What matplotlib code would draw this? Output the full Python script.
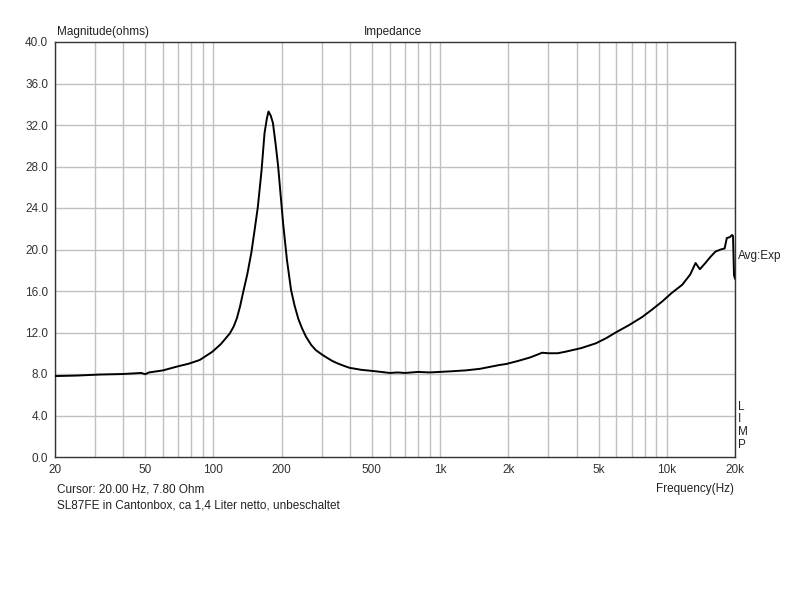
import numpy as np
import matplotlib
matplotlib.use("Agg")
import matplotlib.pyplot as plt
from matplotlib.ticker import FixedLocator, NullFormatter, NullLocator

# impedance curve (Hz, ohms)
freq = [20, 25, 31.6, 40, 48, 50, 52, 60, 68.6, 78, 87, 99, 108, 118, 123, 127, 131, 135,
        141, 147, 152, 157, 163, 168, 172, 175, 179, 183, 188, 193, 198, 203, 211, 220,
        228, 237, 246, 256, 270, 283, 300, 315, 335, 355, 375, 398, 450, 500, 560, 600,
        650, 700, 800, 900, 990, 1100, 1300, 1500, 1830, 1954, 2200, 2500, 2820, 3000,
        3300, 3580, 4200, 4870, 5400, 5950, 6800, 7800, 8600, 9560, 10500, 11700, 12700,
        13400, 14000, 14800, 15600, 16400, 17300, 18000, 18400, 19000, 19400, 19600,
        19800, 20000]
impedance = [7.8, 7.85, 7.95, 8.0, 8.1, 7.98, 8.15, 8.35, 8.7, 9.0, 9.35, 10.15, 10.9,
             11.9, 12.6, 13.4, 14.5, 15.8, 17.6, 19.7, 21.9, 24.1, 27.6, 31.2, 32.6,
             33.3, 32.9, 32.2, 30.2, 28.0, 25.2, 22.5, 19.0, 16.1, 14.6, 13.3, 12.4,
             11.6, 10.8, 10.3, 9.9, 9.6, 9.25, 9.0, 8.8, 8.6, 8.4, 8.3, 8.18, 8.1, 8.15,
             8.1, 8.2, 8.15, 8.2, 8.25, 8.35, 8.5, 8.87, 8.96, 9.25, 9.6, 10.05, 10.0,
             10.0, 10.15, 10.5, 10.96, 11.45, 12.0, 12.7, 13.5, 14.2, 15.0, 15.8, 16.6,
             17.6, 18.7, 18.1, 18.7, 19.3, 19.8, 20.0, 20.1, 21.1, 21.2, 21.4, 21.3,
             17.5, 17.2]

y_ticks = [0, 4, 8, 12, 16, 20, 24, 28, 32, 36, 40]
x_labeled = [20, 50, 100, 200, 500, 1000, 2000, 5000, 10000, 20000]
x_labels = ['20', '50', '100', '200', '500', '1k', '2k', '5k', '10k', '20k']

plt.rcParams['font.family'] = ['Liberation Sans', 'DejaVu Sans']
fs = 8.5

fig = plt.figure(figsize=(8, 6), dpi=100)
ax = fig.add_axes([55 / 800, 143 / 600, 680 / 800, 415 / 600])

# grid lines at every 1-2-3...9 step per decade
grid_x = []
for dec in [10, 100, 1000, 10000]:
    for m in range(1, 10):
        f = m * dec
        if 20 <= f <= 20000:
            grid_x.append(f)
for f in grid_x:
    ax.axvline(f, color='#c0c0c0', lw=1, zorder=1)
for y in y_ticks[1:-1]:
    ax.axhline(y, color='#c0c0c0', lw=1, zorder=1)

ax.plot(freq, impedance, color='black', lw=1.4, zorder=3)

ax.set_xscale('log')
ax.set_xlim(20, 20000)
ax.set_ylim(0, 40)
ax.xaxis.set_major_locator(FixedLocator(x_labeled))
ax.xaxis.set_minor_locator(NullLocator())
ax.xaxis.set_minor_formatter(NullFormatter())
ax.set_xticklabels(x_labels)
ax.set_yticks(y_ticks)
ax.set_yticklabels([f'{v:.1f}' for v in y_ticks])
ax.tick_params(length=0, labelsize=fs, colors='#333333', pad=5)

for s in ax.spines.values():
    s.set_color('#333333')
    s.set_linewidth(1)

tc = '#222222'
fig.text(57 / 800, 1 - 32 / 600, 'Magnitude(ohms)', fontsize=fs, va='center', ha='left', color=tc)
fig.text(393 / 800, 1 - 32 / 600, 'Impedance', fontsize=fs, va='center', ha='center', color=tc)
fig.text(734 / 800, 1 - 489 / 600, 'Frequency(Hz)', fontsize=fs, va='center', ha='right', color=tc)
fig.text(738 / 800, 1 - 256 / 600, 'Avg:Exp', fontsize=fs, va='center', ha='left', color=tc)
for i, ch in enumerate('LIMP'):
    fig.text(738 / 800, 1 - (407 + i * 12.5) / 600, ch, fontsize=fs, va='center', ha='left', color=tc)
fig.text(57 / 800, 1 - 489 / 600, 'Cursor: 20.00 Hz, 7.80 Ohm', fontsize=fs,
         va='center', ha='left', color=tc)
fig.text(57 / 800, 1 - 506 / 600, 'SL87FE in Cantonbox, ca 1,4 Liter netto, unbeschaltet',
         fontsize=fs, va='center', ha='left', color=tc)

fig.savefig('out.png', dpi=100)
